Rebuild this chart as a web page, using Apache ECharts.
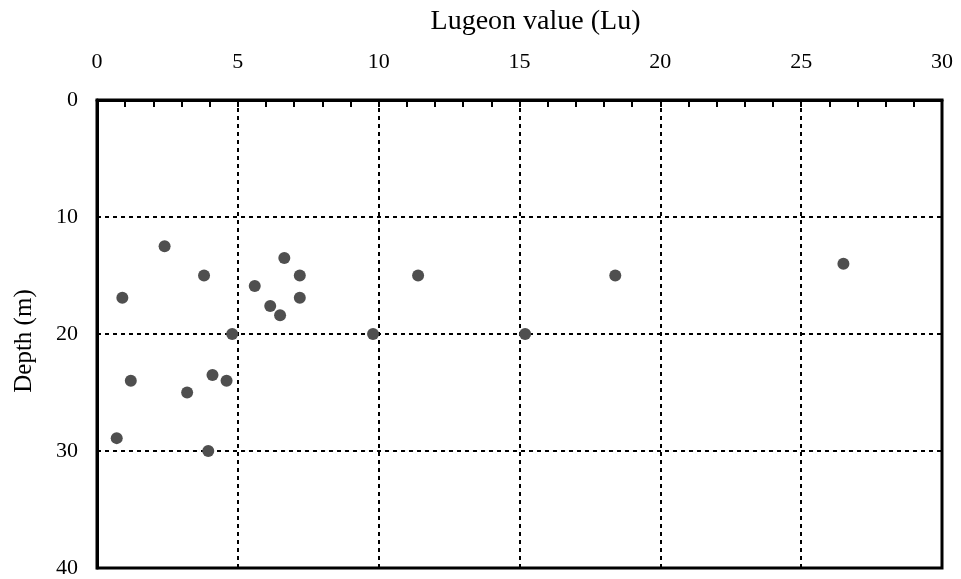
<!DOCTYPE html>
<html>
<head>
<meta charset="utf-8">
<script src="https://cdn.jsdelivr.net/npm/echarts@6/dist/echarts.min.js"></script>
<style>
html,body{margin:0;padding:0;background:#fff;}
#chart{width:961px;height:579px;}
</style>
</head>
<body>
<div id="chart"></div>
<script>
// Lugeon value (Lu)
var lugeon = [2.4, 3.8, 0.9, 5.6, 6.65, 7.2, 7.2, 6.15, 6.5, 4.8, 9.8, 11.4, 15.2, 18.4, 26.5, 1.2, 4.1, 4.6, 3.2, 0.7, 3.95];
// Depth (m)
var depth = [12.5, 15, 16.9, 15.9, 13.5, 15, 16.9, 17.6, 18.4, 20, 20, 15, 20, 15, 14, 24, 23.5, 24, 25, 28.9, 30];
var xTicks = [0, 5, 10, 15, 20, 25, 30];
var yTicks = [0, 10, 20, 30, 40];

var pts = lugeon.map(function (v, i) { return [v, depth[i]]; });
var font = 'Liberation Serif';
var chart = echarts.init(document.getElementById('chart'));
chart.setOption({
  animation: false,
  backgroundColor: '#fff',
  grid: { left: 97, top: 100, right: 19, bottom: 8, show: true, borderColor: '#000', borderWidth: 3, backgroundColor: 'transparent' },
  xAxis: {
    type: 'value', position: 'top',
    min: xTicks[0], max: xTicks[xTicks.length - 1], interval: 5,
    name: 'Lugeon value (Lu)', nameLocation: 'middle', nameGap: 64,
    nameTextStyle: { fontFamily: font, fontSize: 28, color: '#000', padding: [0, 0, 0, 32] },
    axisLine: { show: true, lineStyle: { color: '#000', width: 3 } },
    axisTick: { show: true, inside: true, length: 7, lineStyle: { color: '#000', width: 2 } },
    minorTick: { show: true, splitNumber: 5, length: 7, lineStyle: { color: '#000', width: 2 } },
    axisLabel: { fontFamily: font, fontSize: 22, color: '#000', margin: 27 },
    splitLine: { show: true, lineStyle: { color: '#000', width: 2, type: [4, 4] } }
  },
  yAxis: {
    type: 'value', inverse: true,
    min: yTicks[0], max: yTicks[yTicks.length - 1], interval: 10,
    name: 'Depth (m)', nameLocation: 'middle', nameGap: 60, nameRotate: 90,
    nameTextStyle: { fontFamily: font, fontSize: 25, color: '#000', padding: [0, 14, 0, 0] },
    axisLine: { show: true, lineStyle: { color: '#000', width: 3 } },
    axisTick: { show: true, inside: true, length: 4, lineStyle: { color: '#000', width: 2 } },
    axisLabel: { fontFamily: font, fontSize: 22, color: '#000', margin: 19 },
    splitLine: { show: true, lineStyle: { color: '#000', width: 2, type: [4, 4] } }
  },
  series: [{
    type: 'scatter',
    data: pts,
    symbol: 'circle',
    symbolSize: 12,
    itemStyle: { color: '#4f4f4f', opacity: 1 }
  }]
});
</script>
</body>
</html>
